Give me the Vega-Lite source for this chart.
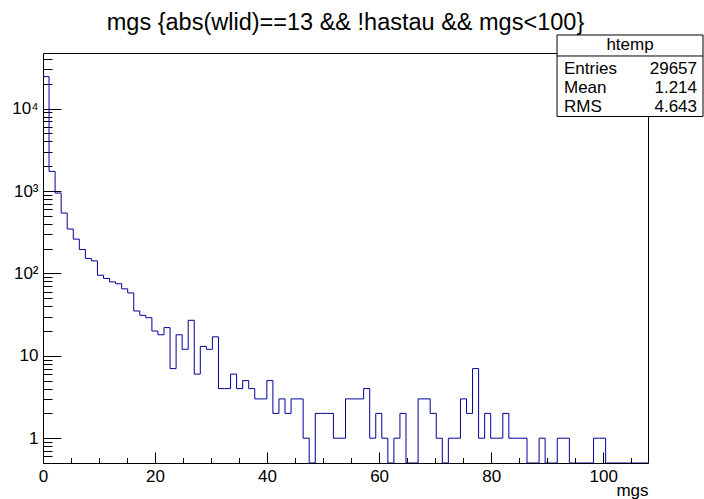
{
  "$schema": "https://vega.github.io/schema/vega-lite/v6.json",
  "width": 605,
  "height": 410,
  "autosize": {"type": "none"},
  "padding": {"left": 43, "top": 53, "right": 56, "bottom": 36},
  "background": "white",
  "config": {
    "view": {"stroke": "black", "strokeWidth": 1},
    "font": "Liberation Sans",
    "axis": {"grid": false, "domain": false, "tickColor": "black", "tickWidth": 1, "labelColor": "black", "labelFont": "Liberation Sans", "labelFlush": false, "labelOverlap": false, "labelBound": false}
  },
  "title": {
    "text": "mgs {abs(wlid)==13 && !hastau && mgs<100}",
    "font": "Liberation Sans",
    "fontSize": 23.5,
    "fontWeight": "normal",
    "color": "black",
    "anchor": "middle",
    "frame": "group",
    "baseline": "alphabetic",
    "offset": 7,
    "dy": 26.5
  },
  "resolve": {
    "scale": {"x": "independent", "y": "independent"},
    "axis": {"x": "independent", "y": "independent"}
  },
  "layer": [
    {
      "data": {"values": [
        {"x": 0, "count": 24497}, {"x": 1.08, "count": 1733}, {"x": 2.16, "count": 946}, {"x": 3.24, "count": 541},
        {"x": 4.32, "count": 346}, {"x": 5.4, "count": 261}, {"x": 6.48, "count": 195}, {"x": 7.56, "count": 152},
        {"x": 8.64, "count": 142}, {"x": 9.72, "count": 95}, {"x": 10.8, "count": 87}, {"x": 11.88, "count": 79},
        {"x": 12.96, "count": 75}, {"x": 14.04, "count": 65}, {"x": 15.12, "count": 58}, {"x": 16.2, "count": 35},
        {"x": 17.28, "count": 31}, {"x": 18.36, "count": 29}, {"x": 19.44, "count": 20}, {"x": 20.52, "count": 18},
        {"x": 21.6, "count": 22}, {"x": 22.68, "count": 7}, {"x": 23.76, "count": 18}, {"x": 24.84, "count": 12},
        {"x": 25.92, "count": 27}, {"x": 27, "count": 6}, {"x": 28.08, "count": 13}, {"x": 29.16, "count": 12},
        {"x": 30.24, "count": 17}, {"x": 31.32, "count": 4}, {"x": 32.4, "count": 4}, {"x": 33.48, "count": 6},
        {"x": 34.56, "count": 4}, {"x": 35.64, "count": 5}, {"x": 36.72, "count": 4}, {"x": 37.8, "count": 3},
        {"x": 38.88, "count": 3}, {"x": 39.96, "count": 5}, {"x": 41.04, "count": 2}, {"x": 42.12, "count": 3},
        {"x": 43.2, "count": 2}, {"x": 44.28, "count": 3}, {"x": 45.36, "count": 3}, {"x": 46.44, "count": 1},
        {"x": 47.52, "count": 0}, {"x": 48.6, "count": 2}, {"x": 49.68, "count": 2}, {"x": 50.76, "count": 2},
        {"x": 51.84, "count": 1}, {"x": 52.92, "count": 1}, {"x": 54, "count": 3}, {"x": 55.08, "count": 3},
        {"x": 56.16, "count": 3}, {"x": 57.24, "count": 4}, {"x": 58.32, "count": 1}, {"x": 59.4, "count": 2},
        {"x": 60.48, "count": 1}, {"x": 61.56, "count": 0}, {"x": 62.64, "count": 1}, {"x": 63.72, "count": 2},
        {"x": 64.8, "count": 0}, {"x": 65.88, "count": 0}, {"x": 66.96, "count": 3}, {"x": 68.04, "count": 3},
        {"x": 69.12, "count": 2}, {"x": 70.2, "count": 1}, {"x": 71.28, "count": 0}, {"x": 72.36, "count": 1},
        {"x": 73.44, "count": 1}, {"x": 74.52, "count": 3}, {"x": 75.6, "count": 2}, {"x": 76.68, "count": 7},
        {"x": 77.76, "count": 1}, {"x": 78.84, "count": 2}, {"x": 79.92, "count": 1}, {"x": 81, "count": 1},
        {"x": 82.08, "count": 2}, {"x": 83.16, "count": 1}, {"x": 84.24, "count": 1}, {"x": 85.32, "count": 1},
        {"x": 86.4, "count": 0}, {"x": 87.48, "count": 0}, {"x": 88.56, "count": 1}, {"x": 89.64, "count": 0},
        {"x": 90.72, "count": 0}, {"x": 91.8, "count": 1}, {"x": 92.88, "count": 1}, {"x": 93.96, "count": 0},
        {"x": 95.04, "count": 0}, {"x": 96.12, "count": 0}, {"x": 97.2, "count": 0}, {"x": 98.28, "count": 1},
        {"x": 99.36, "count": 1}, {"x": 100.44, "count": 0}, {"x": 101.52, "count": 0}, {"x": 102.6, "count": 0},
        {"x": 103.68, "count": 0}, {"x": 104.76, "count": 0}, {"x": 105.84, "count": 0}, {"x": 106.92, "count": 0},
        {"x": 108, "count": 0}
      ]},
      "mark": {"type": "line", "interpolate": "step-after", "color": "#000099", "strokeWidth": 1, "clip": true, "invalid": "show"},
      "encoding": {
        "x": {
          "field": "x", "type": "quantitative",
          "scale": {"domain": [0, 108], "nice": false, "zero": false},
          "axis": {
            "orient": "bottom", "values": [0, 20, 40, 60, 80, 100], "tickSize": -11, "format": "d",
            "labelFontSize": 17, "labelPadding": 16, "labelBaseline": "top",
            "title": "mgs", "titleFont": "Liberation Sans", "titleFontSize": 17, "titleFontWeight": "normal", "titleColor": "black",
            "titleX": 605, "titleY": 32, "titleAlign": "right", "titleBaseline": "alphabetic", "titleAngle": 0
          }
        },
        "y": {
          "field": "count", "type": "quantitative",
          "scale": {"type": "log", "domain": [0.5, 47400], "nice": false, "clamp": true},
          "axis": {
            "orient": "left", "values": [1, 10, 100, 1000, 10000], "tickSize": -18,
            "labelFontSize": 17, "labelPadding": 23, "labelBaseline": "middle",
            "labelExpr": "datum.value == 1 ? '1' : datum.value == 10 ? '10' : datum.value == 100 ? '10²' : datum.value == 1000 ? '10³' : '10⁴'",
            "title": null
          }
        }
      }
    },
    {
      "data": {"values": [{"box": "htemp"}]},
      "mark": {"type": "rect", "fill": "white", "stroke": "black", "strokeWidth": 1, "clip": false},
      "encoding": {
        "x": {
          "datum": 91.76, "type": "quantitative",
          "scale": {"domain": [0, 108], "nice": false, "zero": false},
          "axis": {"orient": "bottom", "values": [5, 10, 15, 25, 30, 35, 45, 50, 55, 65, 70, 75, 85, 90, 95, 105], "tickSize": -5.5, "labels": false, "title": null}
        },
        "x2": {"datum": 117.82},
        "y": {
          "datum": 78420, "type": "quantitative",
          "scale": {"type": "log", "domain": [0.5, 47400], "nice": false},
          "axis": {"orient": "left", "values": [0.6, 0.7, 0.8, 0.9, 2, 3, 4, 5, 6, 7, 8, 9, 20, 30, 40, 50, 60, 70, 80, 90, 200, 300, 400, 500, 600, 700, 800, 900, 2000, 3000, 4000, 5000, 6000, 7000, 8000, 9000, 20000, 30000, 40000], "tickSize": -9, "labels": false, "title": null}
        },
        "y2": {"datum": 8035}
      }
    },
    {
      "data": {"values": [{"box": "htemp"}]},
      "mark": {"type": "rule", "stroke": "black", "strokeWidth": 1, "clip": false},
      "encoding": {
        "x": {"datum": 91.76, "type": "quantitative", "scale": {"domain": [0, 108], "nice": false, "zero": false}, "axis": null},
        "x2": {"datum": 117.82},
        "y": {"datum": 43590, "type": "quantitative", "scale": {"type": "log", "domain": [0.5, 47400], "nice": false}, "axis": null}
      }
    },
    {
      "data": {"values": [{"box": "htemp"}]},
      "mark": {"type": "text", "font": "Liberation Sans", "fontSize": 17, "color": "black", "align": "center", "baseline": "middle", "clip": false},
      "encoding": {
        "x": {"datum": 104.79, "type": "quantitative", "scale": {"domain": [0, 108], "nice": false, "zero": false}, "axis": null},
        "y": {"datum": 59290, "type": "quantitative", "scale": {"type": "log", "domain": [0.5, 47400], "nice": false}, "axis": null},
        "text": {"field": "box"}
      }
    },
    {
      "data": {"values": [{"stat": "Entries", "value": "29657"}, {"stat": "Mean", "value": "1.214"}, {"stat": "RMS", "value": "4.643"}]},
      "mark": {"type": "text", "font": "Liberation Sans", "fontSize": 17, "color": "black", "align": "left", "baseline": "middle", "clip": false},
      "encoding": {
        "x": {"datum": 93.0, "type": "quantitative", "scale": {"domain": [0, 108], "nice": false, "zero": false}, "axis": null},
        "y": {"field": "stat", "type": "ordinal", "scale": {"type": "point", "domain": ["Entries", "Mean", "RMS"], "range": [15.5, 54], "padding": 0}, "axis": null},
        "text": {"field": "stat"}
      }
    },
    {
      "data": {"values": [{"stat": "Entries", "value": "29657"}, {"stat": "Mean", "value": "1.214"}, {"stat": "RMS", "value": "4.643"}]},
      "mark": {"type": "text", "font": "Liberation Sans", "fontSize": 17, "color": "black", "align": "right", "baseline": "middle", "clip": false},
      "encoding": {
        "x": {"datum": 116.75, "type": "quantitative", "scale": {"domain": [0, 108], "nice": false, "zero": false}, "axis": null},
        "y": {"field": "stat", "type": "ordinal", "scale": {"type": "point", "domain": ["Entries", "Mean", "RMS"], "range": [15.5, 54], "padding": 0}, "axis": null},
        "text": {"field": "value"}
      }
    }
  ]
}
